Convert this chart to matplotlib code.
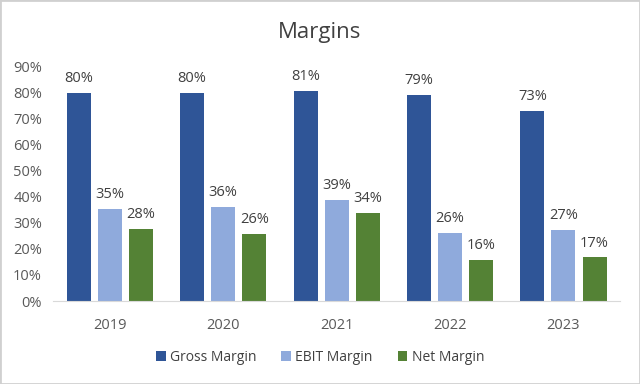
import matplotlib.pyplot as plt
import numpy as np
from matplotlib.ticker import PercentFormatter
from matplotlib.patches import Rectangle

plt.rcParams['font.family'] = ['Open Sans', 'DejaVu Sans']

years = ['2019', '2020', '2021', '2022', '2023']
gross = [0.798, 0.797, 0.806, 0.789, 0.728]
ebit = [0.352, 0.359, 0.387, 0.259, 0.271]
net = [0.277, 0.258, 0.336, 0.156, 0.167]
labels = ['Gross Margin', 'EBIT Margin', 'Net Margin']
colors = ['#2F5597', '#8FAADC', '#548235']

fig = plt.figure(figsize=(6.4, 3.84), dpi=100)
ax = fig.add_axes([0.083, 0.216, 0.886, 0.612])

x = np.arange(len(years))
w = 0.212
step = 0.274
for i, (vals, lab, c) in enumerate(zip([gross, ebit, net], labels, colors)):
    bars = ax.bar(x + (i - 1) * step, vals, w, color=c, label=lab)
    for b, v in zip(bars, vals):
        ax.annotate(f'{v*100:.0f}%', (b.get_x() + b.get_width() / 2, v),
                    xytext=(0, 5), textcoords='offset points',
                    ha='center', va='bottom', fontsize=10.5, color='#404040')

ax.set_xlim(-0.5, 4.5)
ax.set_ylim(0, 0.9)
ax.set_yticks(np.arange(0, 0.91, 0.1))
ax.yaxis.set_major_formatter(PercentFormatter(1.0, decimals=0))
ax.set_xticks(x)
ax.set_xticklabels(years)
for s in ['top', 'right', 'left']:
    ax.spines[s].set_visible(False)
ax.spines['bottom'].set_color('#D9D9D9')
ax.tick_params(axis='both', length=0, labelsize=10.5, colors='#595959')
ax.tick_params(axis='x', pad=12)
ax.tick_params(axis='y', pad=8)

fig.text(0.5, 0.915, 'Margins', ha='center', va='center', fontsize=16, color='#404040')
fig.legend(loc='center', bbox_to_anchor=(0.5, 0.07), ncol=3, frameon=False,
           fontsize=10, handlelength=0.7, handleheight=0.7, columnspacing=1.8,
           handletextpad=0.3, labelcolor='#404040')

fig.patches.append(Rectangle((0, 0), 1, 1, transform=fig.transFigure, fill=False,
                             edgecolor='#D0D0D0', linewidth=2))

fig.savefig('out.png', dpi=100)
